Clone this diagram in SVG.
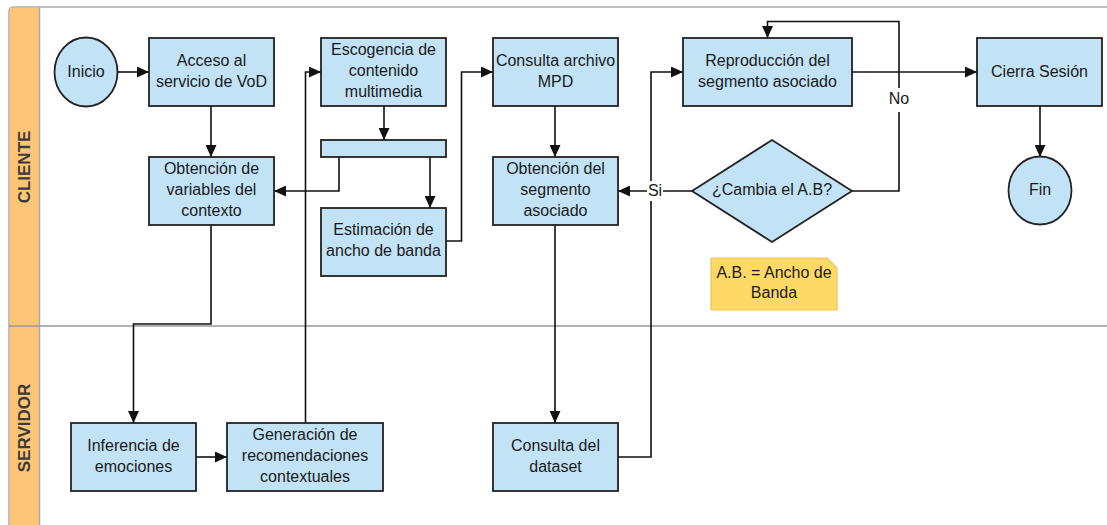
<svg xmlns="http://www.w3.org/2000/svg" width="1107" height="525" viewBox="0 0 1107 525">
<defs>
<marker id="arr" markerUnits="userSpaceOnUse" markerWidth="13" markerHeight="11" refX="12" refY="5.5" orient="auto">
<path d="M0,0 L12,5.5 L0,11 z" fill="#111"/>
</marker>
<style>
.box{fill:#C2E3F6;stroke:#222;stroke-width:1.8}
.t{font-family:"Liberation Sans",Arial,sans-serif;font-size:16px;fill:#1a1a1a;text-anchor:middle}
.lane{font-family:"Liberation Sans",Arial,sans-serif;font-size:17px;font-weight:bold;fill:#3a3a3a;text-anchor:middle}
.c{fill:none;stroke:#111;stroke-width:1.6}
.ca{fill:none;stroke:#111;stroke-width:1.6;marker-end:url(#arr)}
</style>
</defs>
<rect width="1107" height="525" fill="#fff"/>
<g id="pool">
<path d="M9,535 L9,12 Q9,7 14,7 L1110,7" fill="none" stroke="#aaa" stroke-width="1.5"/>
<rect x="9.8" y="7.8" width="29.5" height="520" fill="#FFC576"/>
<line x1="39.5" y1="7" x2="39.5" y2="530" stroke="#aaa" stroke-width="1.5"/>
<line x1="9" y1="326" x2="1110" y2="326" stroke="#999" stroke-width="1.5"/>
<text class="lane" transform="translate(30,167) rotate(-90)">CLIENTE</text>
<text class="lane" transform="translate(30,428) rotate(-90)">SERVIDOR</text>
</g>
<g id="connectors">
<line class="ca" x1="118" y1="72" x2="149" y2="72"/>
<line class="ca" x1="211" y1="106" x2="211" y2="157"/>
<line class="ca" x1="384" y1="106" x2="384" y2="140"/>
<polyline class="ca" points="339,157 339,191 274,191"/>
<line class="ca" x1="430" y1="157" x2="430" y2="208"/>
<polyline class="ca" points="446,241 461.5,241 461.5,72 493,72"/>
<line class="ca" x1="555" y1="106" x2="555" y2="157"/>
<line class="ca" x1="555" y1="225" x2="555" y2="423"/>
<polyline class="ca" points="618,457 651,457 651,72 683,72"/>
<line class="ca" x1="692" y1="191" x2="618" y2="191"/>
<polyline class="ca" points="852,191 899,191 899,21.5 767.5,21.5 767.5,38"/>
<line class="ca" x1="852" y1="72" x2="977" y2="72"/>
<line class="ca" x1="1040" y1="106" x2="1040" y2="157"/>
<polyline class="ca" points="211,225 211,324 133.5,324 133.5,423"/>
<polyline class="ca" points="305.5,423 305.5,72 321,72"/>
<line class="ca" x1="196" y1="457" x2="227" y2="457"/>
<rect x="647" y="181" width="16" height="20" fill="#fff"/>
<text class="t" x="655" y="196">Si</text>
<rect x="886" y="88" width="26" height="24" fill="#fff"/>
<text class="t" x="899" y="104">No</text>
</g>
<g id="inicio"><ellipse class="box" cx="86" cy="72" rx="31.5" ry="34.5"/><text class="t" x="86" y="77">Inicio</text></g>
<g id="acceso"><rect class="box" x="149" y="38" width="125" height="68"/><text class="t" x="211.5" y="66">Acceso al</text><text class="t" x="211.5" y="87">servicio de VoD</text></g>
<g id="obtencion-variables"><rect class="box" x="149" y="157" width="125" height="68"/><text class="t" x="211.5" y="174">Obtención de</text><text class="t" x="211.5" y="195">variables del</text><text class="t" x="211.5" y="216">contexto</text></g>
<g id="escogencia"><rect class="box" x="321" y="38" width="125" height="68"/><text class="t" x="383.5" y="55">Escogencia de</text><text class="t" x="383.5" y="76">contenido</text><text class="t" x="383.5" y="97">multimedia</text></g>
<g id="bar"><rect class="box" x="321" y="140" width="125" height="17"/></g>
<g id="estimacion"><rect class="box" x="321" y="208" width="125" height="68"/><text class="t" x="383.5" y="235">Estimación de</text><text class="t" x="383.5" y="256">ancho de banda</text></g>
<g id="consulta-mpd"><rect class="box" x="493" y="38" width="125" height="68"/><text class="t" x="555.5" y="66">Consulta archivo</text><text class="t" x="555.5" y="87">MPD</text></g>
<g id="obtencion-segmento"><rect class="box" x="493" y="157" width="125" height="68"/><text class="t" x="555.5" y="174">Obtención del</text><text class="t" x="555.5" y="195">segmento</text><text class="t" x="555.5" y="216">asociado</text></g>
<g id="reproduccion"><rect class="box" x="683" y="38" width="169" height="68"/><text class="t" x="767.5" y="66">Reproducción del</text><text class="t" x="767.5" y="87">segmento asociado</text></g>
<g id="cierra"><rect class="box" x="977" y="38" width="125" height="68"/><text class="t" x="1039.5" y="77">Cierra Sesión</text></g>
<g id="fin"><ellipse class="box" cx="1040" cy="190.5" rx="31.5" ry="34"/><text class="t" x="1040" y="195">Fin</text></g>
<g id="cambia"><polygon class="box" points="692,191 772,140 852,191 772,242"/><text class="t" x="772" y="195">¿Cambia el A.B?</text></g>
<g id="nota"><path d="M711,258 L827,258 L837,268 L837,310 L711,310 Z" fill="#FFD966" stroke="#E6C45C" stroke-width="1.2"/><text class="t" x="774" y="278">A.B. = Ancho de</text><text class="t" x="774" y="298">Banda</text></g>
<g id="inferencia"><rect class="box" x="71" y="423" width="125" height="68"/><text class="t" x="133.5" y="451">Inferencia de</text><text class="t" x="133.5" y="472">emociones</text></g>
<g id="generacion"><rect class="box" x="227" y="423" width="156" height="68"/><text class="t" x="305" y="440">Generación de</text><text class="t" x="305" y="461">recomendaciones</text><text class="t" x="305" y="482">contextuales</text></g>
<g id="consulta-dataset"><rect class="box" x="493" y="423" width="125" height="68"/><text class="t" x="555.5" y="451">Consulta del</text><text class="t" x="555.5" y="472">dataset</text></g>
</svg>
